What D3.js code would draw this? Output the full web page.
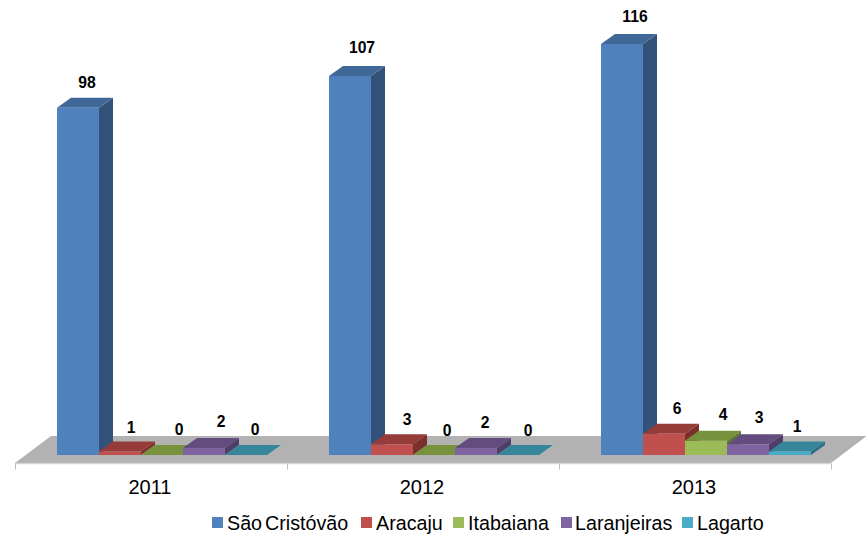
<!DOCTYPE html>
<html><head><meta charset="utf-8">
<script src="https://cdn.jsdelivr.net/npm/d3@7"></script>
<style>html,body{margin:0;padding:0;background:#fff}svg{display:block}text{font-family:"Liberation Sans",Arial,sans-serif}</style>
</head><body><svg id="c" width="866" height="536"></svg>
<script>
const years = ["2011","2012","2013"];
const seriesNames = ["São Cristóvão","Aracaju","Itabaiana","Laranjeiras","Lagarto"];
const saoCristovao = [98,107,116];
const aracaju = [1,3,6];
const itabaiana = [0,0,4];
const laranjeiras = [2,2,3];
const lagarto = [0,0,1];
const seriesValues = [saoCristovao,aracaju,itabaiana,laranjeiras,lagarto];
const frontColors = ["#4f81bd","#c0504d","#9bbb59","#8064a2","#4bacc6"];
const topColors = ["#3f6797","#953c39","#77923c","#634d7e","#37859a"];
const sideColors = ["#33527a","#7c302e","#617a30","#503e68","#2c6f80"];
// hand-read label nudges (px), per series then per year
const labelNudge = [[9,12,13],[11,15,13],[17,13,17],[17,9,11],[9,10,7]];
const labelLift = [[9.3,13.3,12],[8,9.4,10],[10,9,10.8],[11,9.6,11.7],[10,9,9.5]];

const svg = d3.select("#c");
const base = 455, dx = 14, dy = 10;
const x0 = d3.scaleBand().domain(years).range([15,831]);
const x1 = d3.scaleBand().domain(seriesNames).range([42,252]);
const y = d3.scaleLinear().domain([0,116]).range([base,base-411]);
const poly = pts => pts.map(p=>p.join(",")).join(" ");

// floor
svg.append("polygon").attr("points",poly([[15,463],[51,436],[866,436],[866,436.5],[831,463]])).attr("fill","#b2b2b2");
svg.append("line").attr("x1",15).attr("x2",831).attr("y1",463.5).attr("y2",463.5).attr("stroke","#d4d4d4").attr("stroke-width",1.5);
// ticks
const tickScale = d3.scaleLinear().domain([0,3]).range([15,831]);
const gt = svg.append("g").attr("transform","translate(0,463.5)");
gt.selectAll("line").data(d3.range(4)).join("line")
  .attr("x1",d=>tickScale(d)+.5).attr("x2",d=>tickScale(d)+.5).attr("y1",0).attr("y2",6)
  .attr("stroke","#bdbdbd").attr("stroke-width",1);

// bars
const g = svg.append("g");
years.forEach((yr,yi)=>{
  seriesNames.forEach((s,si)=>{
    const v = seriesValues[si][yi];
    const l = x0(yr)+x1(s), r = l+x1.bandwidth(), t = y(v);
    g.append("polygon").attr("points",poly([[r,t],[r+dx,t-dy],[r+dx,base-dy],[r,base]])).attr("fill",sideColors[si]);
    g.append("polygon").attr("points",poly([[l,t],[l+dx,t-dy],[r+dx,t-dy],[r,t]])).attr("fill",topColors[si]);
    if(v>0) g.append("rect").attr("x",l).attr("y",t).attr("width",r-l).attr("height",base-t).attr("fill",frontColors[si]);
  });
});
// value labels
years.forEach((yr,yi)=>{
  seriesNames.forEach((s,si)=>{
    const v = seriesValues[si][yi];
    svg.append("text").attr("x",x0(yr)+x1(s)+x1.bandwidth()/2+labelNudge[si][yi])
      .attr("y",y(v)-dy-labelLift[si][yi]).attr("text-anchor","middle")
      .attr("font-size",15.7).attr("font-weight","bold").attr("fill","#000").text(v);
  });
});
// category labels
svg.selectAll(".cat").data(years).join("text").attr("class","cat")
  .attr("x",d=>x0(d)+x0.bandwidth()/2-1).attr("y",494).attr("text-anchor","middle")
  .attr("font-size",20).attr("fill","#000").text(d=>d);
// legend
const legendX = [212,361,453,561,682];
const lg = svg.selectAll(".lg").data(seriesNames).join("g").attr("class","lg")
  .attr("transform",(d,i)=>`translate(${legendX[i]},0)`);
lg.append("rect").attr("y",517).attr("width",11).attr("height",11).attr("fill",(d,i)=>frontColors[i]);
lg.append("text").attr("x",(d,i)=>i==3?14:15).attr("y",530).attr("font-size",19.7).attr("word-spacing",-2.5).attr("fill","#000").text(d=>d);
</script></body></html>
